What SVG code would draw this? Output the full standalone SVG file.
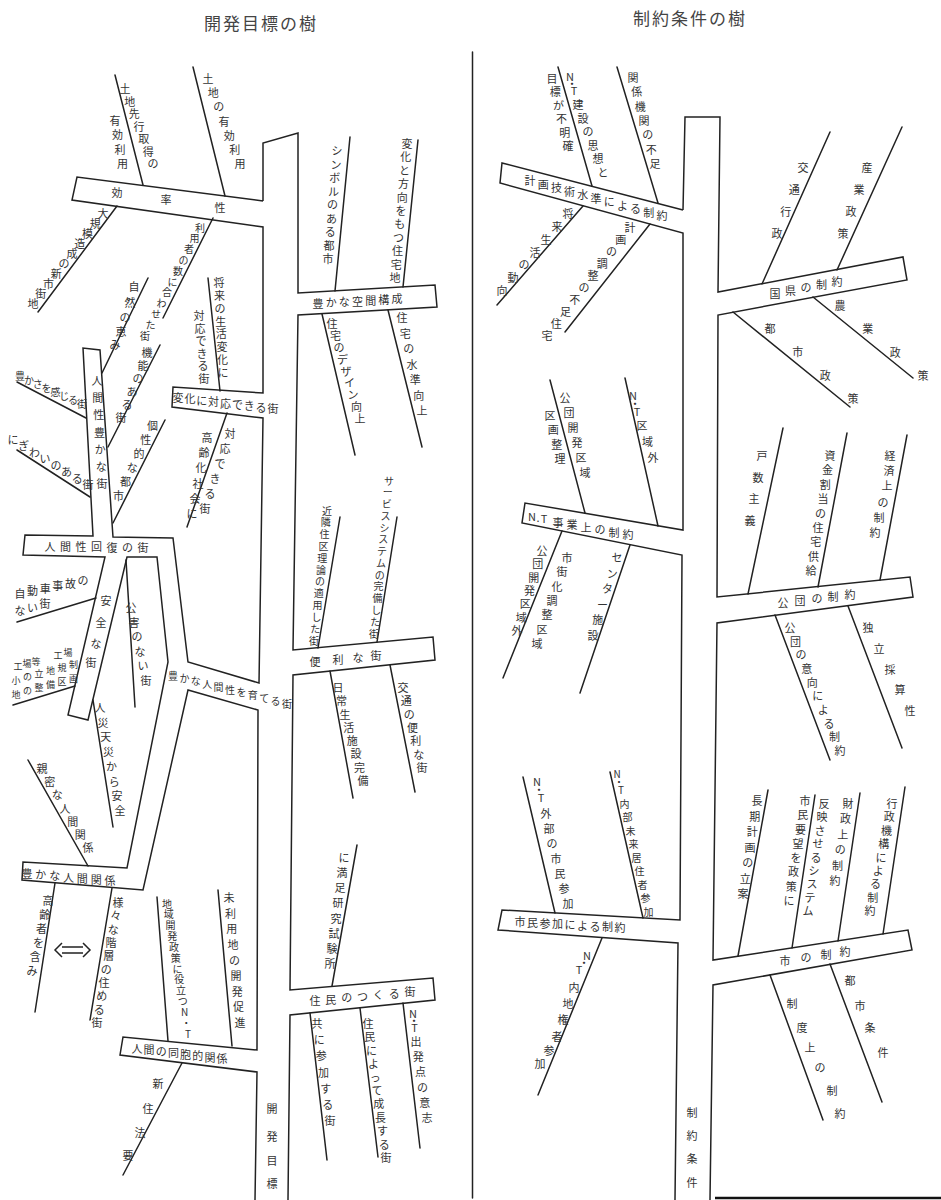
<svg xmlns="http://www.w3.org/2000/svg" width="941" height="1200" viewBox="0 0 941 1200">
<style>
.ol{fill:none;stroke:#222;stroke-width:1.5;stroke-linejoin:miter}
.ln{fill:none;stroke:#222;stroke-width:1.5;stroke-linecap:round}
.t{font-family:"Noto Sans CJK JP","Noto Sans CJK SC",sans-serif;font-size:11px;fill:#333;text-anchor:middle;dominant-baseline:central}
.s{font-size:10px}
.xs{font-size:9px}
.ttl{font-family:"Noto Sans CJK JP",sans-serif;font-size:17px;fill:#444;text-anchor:middle;dominant-baseline:central;letter-spacing:2px}
</style>
<rect width="941" height="1200" fill="#fff"/>
<g id="titles">
<text class="ttl" x="261" y="22">開発目標の樹</text>
<text class="ttl" x="690" y="17">制約条件の樹</text>
</g>
<g id="divider"><path class="ln" d="M472.5,52 L472.5,1198" stroke-width="1.2"/><path d="M715,1198 L941,1198" stroke="#111" stroke-width="2.5"/></g>
<g id="tree-left">
<path class="ol" d="M263,201 L263,143 L298,133 L298,293 L435,285 L437,307 L298,315 L293,650 L433,637 L435,660 L293,675 L290,990 L433,978 L435,1000 L290,1015 L288,1200 M263,201 L77,177 L72,200 L263,227 L263,393 L173,387 L172,407 L263,418 L259,683 L188,662 L173,538 L113,537 L100,350 L83,348 L93,536 L25,535 L23,555 L105,557 L68,715 L88,720 L127,557 L157,557 L168,662 L127,868 L23,862 L22,880 L143,890 L188,690 L258,710 L257,1050 L123,1037 L120,1055 L257,1072 L255,1200"/>
<path class="ol" d="M62,943 L55,950 L62,957 M62,947 L83,947 M62,953 L83,953 M83,943 L90,950 L83,957"/>
</g>
<g id="tree-right">
<path class="ol" d="M683,210 L685,117 L720,117 L718,292 L903,257 L907,280 L718,315 L717,597 L910,577 L913,597 L717,623 L713,960 L908,930 L912,950 L713,985 L710,1200 M683,210 L502,163 L500,183 L683,233 L683,530 L525,503 L522,523 L682,555 L680,920 L502,910 L498,930 L678,943 L675,1200"/>
</g>
<g id="connectors">
<path class="ln" d="M115,75 L143,185 M193,67 L225,196 M117,206 L38,312 M213,218 L163,318 M148,278 L102,373 M160,345 L108,447 M165,420 L113,523 M208,278 L220,391 M227,413 L187,527 M17,382 L86,418 M17,450 L90,497 M17,622 L96,598 M13,705 L75,686 M126,560 L135,707 M93,700 L113,827 M28,760 L88,866 M55,883 L35,1012 M112,888 L90,1020 M157,897 L168,1041 M218,890 L232,1046 M182,1063 L123,1175 M350,137 L335,291 M418,140 L403,287 M322,314 L355,455 M388,310 L422,447 M340,517 L318,648 M397,517 L377,642 M330,671 L353,798 M390,665 L415,792 M357,845 L332,986 M310,1013 L327,1160 M360,1008 L378,1157 M403,1003 L420,1148"/>
<path class="ln" d="M558,67 L592,186 M617,67 L658,203 M583,206 L497,305 M650,224 L565,332 M550,380 L585,513 M625,378 L658,526 M562,531 L503,678 M630,545 L580,693 M523,777 L555,913 M610,772 L643,918 M602,938 L538,1095 M762,284 L830,132 M837,270 L902,127 M733,312 L850,407 M813,297 L913,378 M783,428 L748,594 M847,433 L818,587 M907,435 L880,580 M775,615 L830,760 M848,606 L902,748 M768,790 L738,956 M815,795 L792,948 M860,793 L838,941 M905,787 L883,934 M770,975 L823,1120 M830,964 L882,1102"/>
</g>
<g id="labels-left">
<text class="t" x="125 129.7 134.3 139 143.7 148.3 153" y="88 100.5 113 125.5 138 150.5 163">土地先行取得の</text>
<text class="t" x="115 117.5 120 122.5" y="120 134.3 148.7 163">有効利用</text>
<text class="t" x="208 213.3 218.7 224 229.3 234.7 240" y="78 92.2 106.3 120.5 134.7 148.8 163">土地の有効利用</text>
<text class="t" x="117 166 220" y="192 199 207">効率性</text>
<text class="t" x="103 95.2 87.4 79.7 71.9 64.1 56.3 48.6 40.8 33" y="213 223 233 243 253 263 273 283 293 303">大規模造成の新市街地</text>
<text class="t s" x="200 194.5 189 183.5 178 172.5 167 161.5 156 150.5 145" y="227 237.8 248.6 259.4 270.2 281 291.8 302.6 313.4 324.2 335">利用者の数に合わせた街</text>
<text class="t" x="134 130 125 121 115" y="286 302 317 331 344">自然の恵み</text>
<text class="t" x="147 143 138 132 127 121" y="352 365 378 391 404 417">機能のある街</text>
<text class="t" x="152.6 145.8 139 132.2 125.4 118.6" y="425 439 453 467 481 495">個性的な都市</text>
<text class="t" x="219 219.6 220.1 220.7 221.3 221.9 222.4 223" y="282 294.9 307.7 320.6 333.4 346.3 359.1 372">将来の生活変化に</text>
<text class="t" x="199 200 201 202 203 204" y="315 327.6 340.2 352.8 365.4 378">対応できる街</text>
<text class="t" x="178 189.9 201.8 213.6 225.5 237.4 249.3 261.1 273" y="397 398.4 399.8 401.1 402.5 403.9 405.3 406.6 408">変化に対応できる街</text>
<text class="t" x="207 204 201 198 195 192" y="437 452.2 467.4 482.6 497.8 513">高齢化社会に</text>
<text class="t" x="230 225 220 215 210 205" y="433 448 463 478 493 508">対応できる街</text>
<text class="t s" x="20 28.9 37.7 46.6 55.4 64.3 73.1 82" y="375 379 383 387 391 395 399 403">豊かさを感じる街</text>
<text class="t" x="13 23.7 34.4 45.1 55.9 66.6 77.3 88" y="439 445.4 451.9 458.3 464.7 471.1 477.6 484">にぎわいのある街</text>
<text class="t" x="97 97.8 98.7 99.5 100.3 101.2 102" y="380 397.2 414.3 431.5 448.7 465.8 483">人間性豊かな街</text>
<text class="t" x="50 65.5 81 96.5 112 127.5 143" y="546 546 546 546 546.5 547 547">人間性回復の街</text>
<text class="t" x="20 32.6 45.2 57.8 70.4 83" y="593 590.4 587.8 585.2 582.6 580">自動車事故の</text>
<text class="t" x="20 32.5 45" y="610 606.5 603">ない街</text>
<text class="t xs" x="18 27 36 58 68" y="666 663.6 661.1 655.2 652.5">工場等工場</text>
<text class="t xs" x="16 27.5 39 50.5 62 73.5" y="680 676.9 673.8 670.7 667.6 664.5">小の立地規制</text>
<text class="t xs" x="16 27.5 39 50.5 62 73.5" y="694 690.9 687.8 684.7 681.6 678.5">地の整備区画</text>
<text class="t" x="106 101 96 91" y="600 622 643 662">安全な街</text>
<text class="t" x="131 134 137 140 143 146" y="607 621.6 636.2 650.8 665.4 680">公害のない街</text>
<text class="t" x="100 102.9 105.7 108.6 111.4 114.3 117.1 120" y="707 721.7 736.4 751.1 765.9 780.6 795.3 810">人災天災から安全</text>
<text class="t s" x="173 184.4 195.8 207.2 218.6 230 241.4 252.8 264.2 275.6 287" y="675 677.8 680.6 683.4 686.2 689 691.8 694.6 697.4 700.2 703">豊かな人間性を育てる街</text>
<text class="t" x="42 49.7 57.3 65 72.7 80.3 88" y="768 781.2 794.3 807.5 820.7 833.8 847">親密な人間関係</text>
<text class="t" x="27 40.8 54.7 68.5 82.3 96.2 110" y="873 874.2 875.3 876.5 877.7 878.8 880">豊かな人間関係</text>
<text class="t" x="48 44.8 41.6 38.4 35.2 32" y="900 914 928 942 956 970">高齢者を含み</text>
<text class="t" x="118 115.7 113.3 111 108.7 106.3 104 101.7 99.3 97" y="902 915.3 928.7 942 955.3 968.7 982 995.3 1008.7 1022">様々な階層の住める街</text>
<text class="t s" x="167 168.8 170.5 172.3 174 175.8 177.5 179.3 181 182.8 184.5 186.3 188" y="903 913.8 924.7 935.5 946.3 957.2 968 978.8 989.7 1000.5 1011.3 1022.2 1033">地域開発政策に役立つN・T</text>
<text class="t" x="229 230.4 231.8 233.1 234.5 235.9 237.3 238.6 240" y="897 912.6 928.3 943.9 959.5 975.1 990.8 1006.4 1022">未利用地の開発促進</text>
<text class="t" x="137 149.1 161.3 173.4 185.6 197.7 209.9 222" y="1048 1049.4 1050.9 1052.3 1053.7 1055.1 1056.6 1058">人間の同胞的関係</text>
<text class="t" x="158 148 140 128" y="1083 1108 1132 1155">新住法要</text>
<text class="t" x="272 272 272 272" y="1108 1136 1160 1183">開発目標</text>
<text class="t" x="337 335.9 334.8 333.6 332.5 331.4 330.3 329.1 328" y="150 163.5 177 190.5 204 217.5 231 244.5 258">シンボルのある都市</text>
<text class="t" x="407 405.8 404.6 403.4 402.2 401 399.8 398.6 397.4 396.2 395" y="143 156.4 169.8 183.2 196.6 210 223.4 236.8 250.2 263.6 277">変化と方向をもつ住宅地</text>
<text class="t" x="318 331.2 344.3 357.5 370.7 383.8 397" y="303 302.2 301.3 300.5 299.7 298.8 298">豊かな空間構成</text>
<text class="t" x="332 335.5 339 342.5 346 349.5 353 356.5 360" y="323 334.9 346.8 358.6 370.5 382.4 394.3 406.1 418">住宅のデザイン向上</text>
<text class="t" x="402 405.3 408.7 412 415.3 418.7 422" y="317 332.5 348 363.5 379 394.5 410">住宅の水準向上</text>
<text class="t s" x="327 325.8 324.6 323.5 322.3 321.1 319.9 318.7 317.5 316.4 315.2 314" y="510 521.8 533.6 545.5 557.3 569.1 580.9 592.7 604.5 616.4 628.2 640">近隣住区理論の適用した街</text>
<text class="t s" x="389 387.8 386.7 385.5 384.4 383.2 382.1 380.9 379.8 378.6 377.5 376.3 375.2 374" y="480 491.8 503.5 515.3 527.1 538.8 550.6 562.4 574.2 585.9 597.7 609.5 621.2 633">サービスシステムの完備した街</text>
<text class="t" x="315 338 358 376" y="661 659 657 655">便利な街</text>
<text class="t" x="338 341.6 345.1 348.7 352.3 355.9 359.4 363" y="687 700.3 713.6 726.9 740.1 753.4 766.7 780">日常生活施設完備</text>
<text class="t" x="403 406.2 409.3 412.5 415.7 418.8 422" y="687 700.3 713.7 727 740.3 753.7 767">交通の便利な街</text>
<text class="t" x="344 342 340 338 336 334 332 330" y="857 872.1 887.3 902.4 917.6 932.7 947.9 963">に満足研究試験所</text>
<text class="t" x="315 330.8 346.7 362.5 378.3 394.2 410" y="1000 998.5 997 995.5 994 992.5 991">住民のつくる街</text>
<text class="t" x="317 319.2 321.3 323.5 325.7 327.8 330" y="1023 1039.2 1055.3 1071.5 1087.7 1103.8 1120">共に参加する街</text>
<text class="t" x="368 369.8 371.6 373.4 375.2 377 378.8 380.6 382.4 384.2 386" y="1023 1036.4 1049.8 1063.2 1076.6 1090 1103.4 1116.8 1130.2 1143.6 1157">住民によって成長する街</text>
<text class="t" x="413 414 414.5 416 418.2 420.4 422.6 424.8 427" y="1013 1020 1027 1041 1056.2 1071.4 1086.6 1101.8 1117">N・T出発点の意志</text>
</g>
<g id="labels-right">
<text class="t" x="530 543.2 556.4 569.6 582.8 596 609.2 622.4 635.6 648.8 662" y="180 183.5 187 190.5 194 197.5 201 204.5 208 211.5 215">計画技術水準による制約</text>
<text class="t" x="570 572 574 578 583 588 593 598 603" y="76 83 90 104 117.6 131.2 144.8 158.4 172">N・T建設の思想と</text>
<text class="t" x="552 555.2 558.4 561.6 564.8 568" y="78 91.4 104.8 118.2 131.6 145">目標が不明確</text>
<text class="t" x="633 636.7 640.3 644 647.7 651.3 655" y="77 91.3 105.7 120 134.3 148.7 163">関係機関の不足</text>
<text class="t" x="568 557 546 535 524 513 502" y="213 225.8 238.7 251.5 264.3 277.2 290">将来生活の動向</text>
<text class="t" x="630 620.8 611.6 602.3 593.1 583.9 574.7 565.4 556.2 547" y="227 239 251 263 275 287 299 311 323 335">計画の調整の不足住宅</text>
<text class="t" x="532 538 544 558 572 586 600 614 628" y="516 517 518 521.5 524 526.5 529 531.5 534">N.T事業上の制約</text>
<text class="t" x="565 569 573 577 581 585" y="397 412 427 442 457 472">公団開発区域</text>
<text class="t" x="550 553.3 556.7 560" y="415 429.3 443.7 458">区画整理</text>
<text class="t" x="633 635 637 642 647.5 653" y="395 403 411 425 441 457">N・T区域外</text>
<text class="t" x="542 537.8 533.7 529.5 525.3 521.2 517" y="550 563.3 576.7 590 603.3 616.7 630">公団開発区域外</text>
<text class="t" x="567 562 557 552 547 542 537" y="557 571.3 585.7 600 614.3 628.7 643">市街化調整区域</text>
<text class="t" x="617 612.2 607.4 602.6 597.8 593" y="557 572.6 588.2 603.8 619.4 635">センター施設</text>
<text class="t" x="520 532.5 545 557.5 570 582.5 595 607.5 620" y="921 921.8 922.5 923.3 924 924.8 925.5 926.3 927">市民参加による制約</text>
<text class="t" x="537 539 541 546 549 552 556 560 564 568" y="781 789 797 813 828 843 858 873 888 903">N・T外部の市民参加</text>
<text class="t s" x="617 619 621 624.5 627.5 630.5 633.5 636.5 639.5 642.5 645.5 648.5" y="773 781 789 803 816.5 830 843.5 857 870.5 884 897.5 911">N・T内部未来居住者参加</text>
<text class="t" x="587 584 579 574 568 563 557 549 540" y="955 962 969 987 1003 1019 1036 1050 1063">N・T内地権者参加</text>
<text class="t" x="692 692 692 692" y="1112 1135 1158 1182">制約条件</text>
<text class="t" x="775 790.5 806 821.5 837" y="293 290 287 284 281">国県の制約</text>
<text class="t" x="803 794.3 785.7 777" y="167 189 211 233">交通行政</text>
<text class="t" x="867 859 851 843" y="167 189 211 233">産業政策</text>
<text class="t" x="770 797.7 825.3 853" y="328 351.3 374.7 398">都市政策</text>
<text class="t" x="840 867.7 895.3 923" y="305 328.3 351.7 375">農業政策</text>
<text class="t" x="783 800 817 833 850" y="602 600 598 596 594">公団の制約</text>
<text class="t" x="762 758 754 750" y="455 476.7 498.3 520">戸数主義</text>
<text class="t" x="830 827.6 825.3 822.9 820.5 818.1 815.8 813.4 811" y="455 469.4 483.8 498.1 512.5 526.9 541.3 555.6 570">資金割当の住宅供給</text>
<text class="t" x="890 889 887 883 879 875" y="455 470 485 502 517 532">経済上の制約</text>
<text class="t" x="790 795.6 801.1 806.7 812.2 817.8 823.3 828.9 834.4 840" y="627 640.7 654.3 668 681.7 695.3 709 722.7 736.3 750">公団の意向による制約</text>
<text class="t" x="868 879 890 900 910" y="627 648 669 689 710">独立採算性</text>
<text class="t" x="757 754.7 752.3 750 747.7 745.3 743" y="800 815.5 831 846.5 862 877.5 893">長期計画の立案</text>
<text class="t" x="805 802.7 800.4 798.1 795.9 793.6 791.3 789" y="800 814.3 828.6 842.9 857.1 871.4 885.7 900">市民要望を政策に</text>
<text class="t" x="824 822 820 818 816 814 812 810 808" y="803 816.4 829.8 843.1 856.5 869.9 883.3 896.6 910">反映させるシステム</text>
<text class="t" x="848 845.4 842.8 840.2 837.6 835" y="803 818.4 833.8 849.2 864.6 880">財政上の制約</text>
<text class="t" x="892 889.3 886.5 883.8 881 878.3 875.5 872.8 870" y="803 816.4 829.8 843.1 856.5 869.9 883.3 896.6 910">行政機構による制約</text>
<text class="t" x="785 806 826 845" y="960 957 954 951">市の制約</text>
<text class="t" x="792 802 810 820 832 840" y="1003 1027 1047 1067 1090 1113">制度上の制約</text>
<text class="t" x="850 860 870 883" y="980 1005 1027 1052">都市条件</text>
</g>
</svg>
